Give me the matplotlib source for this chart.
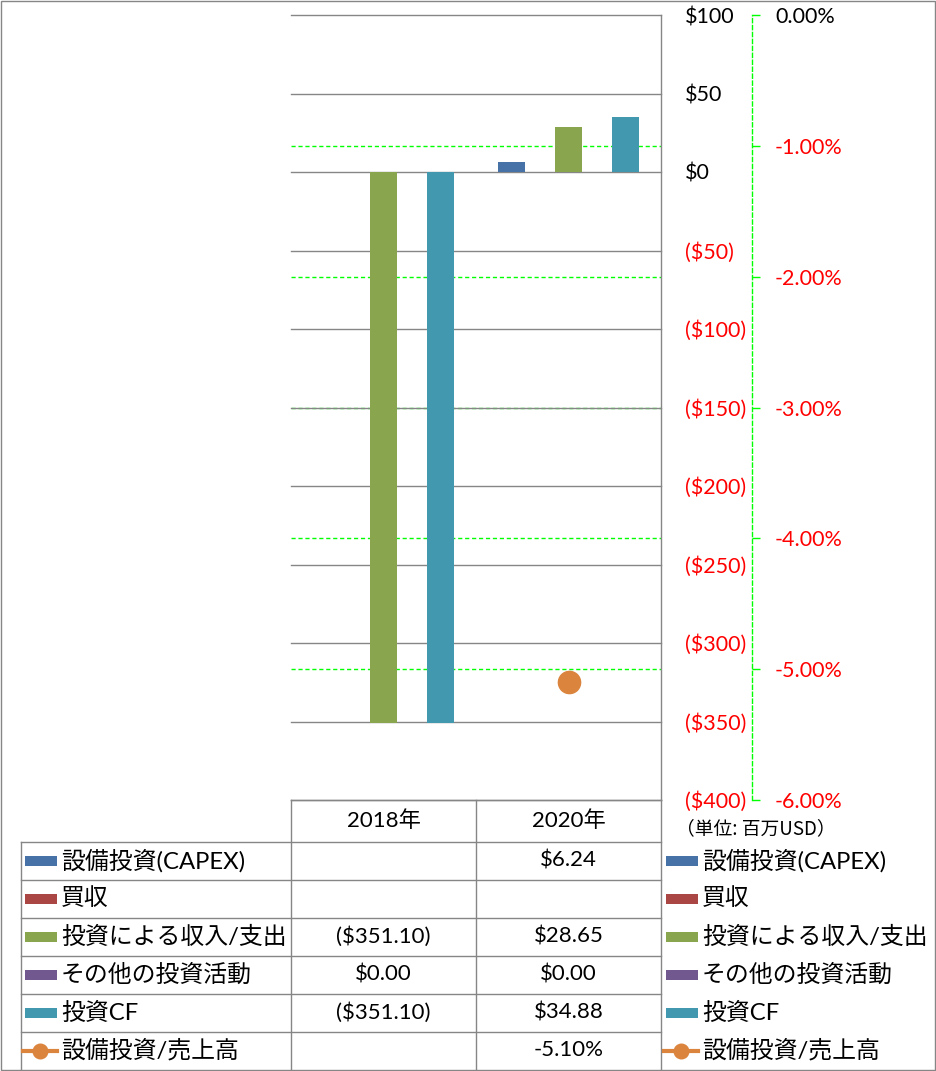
import numpy as np
import matplotlib.pyplot as plt
from matplotlib.patches import Rectangle
from matplotlib.lines import Line2D

plt.rcParams['font.family'] = ['Lato', 'Noto Sans CJK JP', 'DejaVu Sans']

# data
years = ['2018年', '2020年']
series_names = ['設備投資(CAPEX)', '買収', '投資による収入/支出', 'その他の投資活動', '投資CF']
capex = [np.nan, 6.24]
acquisitions = [np.nan, np.nan]
invest_income = [-351.10, 28.65]
other_invest = [0.00, 0.00]
invest_cf = [-351.10, 34.88]
ratio_name = '設備投資/売上高'
capex_ratio = [np.nan, -0.051]
usd_ticks = [100, 50, 0, -50, -100, -150, -200, -250, -300, -350, -400]
pct_ticks = [0.0, -0.01, -0.02, -0.03, -0.04, -0.05, -0.06]
unit_note = '（単位: 百万USD）'

series = [capex, acquisitions, invest_income, other_invest, invest_cf]
colors = ['#4672A8', '#AA4643', '#89A54E', '#71588F', '#4198AF']
orange = '#DB843D'
grid_gray = '#868686'

W, H = 936, 1071
fig = plt.figure(figsize=(W / 100, H / 100), dpi=100)


def fx(px):
    return px / W


def fy(py):
    return 1 - py / H


# main plot area (pixels): x 291-661, y 15-800
ax = fig.add_axes([fx(291), fy(800), fx(661) - fx(291), fy(15) - fy(800)])
ax2 = ax.twinx()
ax.set_zorder(ax2.get_zorder() + 1)
ax.patch.set_visible(False)

x = np.arange(len(years))
bw = 0.154
for i, (vals, c) in enumerate(zip(series, colors)):
    v = np.array(vals, dtype=float)
    ax.bar(x + (i - 2) * bw, np.nan_to_num(v), width=0.151, color=c, zorder=3,
           label=series_names[i])

ax.set_xlim(-0.5, len(years) - 0.5)
ax.set_ylim(-400, 100)
ax.set_xticks([])


def usd(v):
    return f'(${abs(v):,.0f})' if v < 0 else f'${v:,.0f}'


ax.set_yticks(usd_ticks, labels=[usd(v) for v in usd_ticks])
ax.yaxis.tick_right()
ax.tick_params(axis='y', length=0, pad=17, labelsize=15.5)
for v in usd_ticks:
    ax.axhline(v, color=grid_gray, lw=1.0, zorder=1, clip_on=False)
for s in ['left', 'top', 'bottom']:
    ax.spines[s].set_visible(False)
ax.spines['right'].set_color(grid_gray)
ax.spines['right'].set_linewidth(1.0)

# secondary axis
ax2.plot(x, capex_ratio, 'o', color=orange, markersize=16, zorder=4)
ax2.set_ylim(-0.06, 0.0)
ax2.set_yticks(pct_ticks, labels=[f'{abs(v) * 100:.2f}%' if v == 0 else f'{v * 100:.2f}%' for v in pct_ticks])
ax2.tick_params(axis='y', direction='out', length=5.5, width=1, color='lime', pad=11, labelsize=15.5)
for v in pct_ticks[1:-1]:
    ax2.axhline(v, color='lime', lw=1.0, linestyle=(0, (3, 2)), zorder=0)
for s in ['left', 'top', 'bottom']:
    ax2.spines[s].set_visible(False)
ax2.spines['right'].set_position(('axes', (752 - 291) / 370))
ax2.spines['right'].set_color('lime')
ax2.spines['right'].set_linestyle((0, (3, 2)))
ax2.spines['right'].set_linewidth(1.0)

fig.canvas.draw()
for a in [ax, ax2]:
    for tick in a.yaxis.get_major_ticks():
        col = 'red' if tick.get_loc() < -1e-12 else 'black'
        tick.label1.set_color(col)
        tick.label2.set_color(col)

# data table and legends (drawn in pixel space)
tb = fig.add_axes([0, 0, 1, 1], zorder=10)
tb.set_xlim(0, W)
tb.set_ylim(H, 0)
tb.axis('off')
lc = grid_gray
lw = 1.0

# figure border
tb.add_patch(Rectangle((0.5, 0.5), 934, 1069, fill=False, ec=lc, lw=lw))

col_x = [291, 476, 661]
head_top, head_bot = 800, 841.5
row_h = 38
rows = series_names + [ratio_name]
row_tops = [head_bot + i * row_h for i in range(len(rows) + 1)]
row_tops[-1] = 1069.5

tb.plot([291, 661], [head_top, head_top], color=lc, lw=lw)
for cx in col_x:
    tb.plot([cx, cx], [head_top, row_tops[-1]], color=lc, lw=lw)
tb.plot([20.5, 20.5], [head_bot, row_tops[-1]], color=lc, lw=lw)
for ry in row_tops[:-1]:
    tb.plot([20.5, 661], [ry, ry], color=lc, lw=lw)

fs = 16
fs_name = 17.2
for j, yr in enumerate(years):
    tb.text((col_x[j] + col_x[j + 1]) / 2, (head_top + head_bot) / 2, yr,
            ha='center', va='center', fontsize=fs)


def money(v):
    if np.isnan(v):
        return ''
    return f'(${abs(v):,.2f})' if v < 0 else f'${v:,.2f}'


def pct(v):
    return '' if np.isnan(v) else f'{v * 100:.2f}%'


table_vals = [[money(v) for v in s] for s in series] + [[pct(v) for v in capex_ratio]]

for i, name in enumerate(rows):
    cy = (row_tops[i] + row_tops[i + 1]) / 2
    for kx, tx in [(25, 61), (666, 702)]:
        if i < len(series):
            tb.add_patch(Rectangle((kx, cy - 5), 32, 10, color=colors[i], lw=0))
        else:
            tb.add_line(Line2D([kx - 2, kx + 32], [cy, cy], color=orange, lw=3))
            tb.plot(kx + 15, cy, 'o', color=orange, markersize=10.5)
        tb.text(tx, cy, name, ha='left', va='center', fontsize=fs_name)
    for j in range(len(years)):
        tb.text((col_x[j] + col_x[j + 1]) / 2, cy, table_vals[i][j],
                ha='center', va='center', fontsize=fs)

tb.text(676, 829, unit_note, ha='left', va='center', fontsize=13.5,
        family=['Noto Sans CJK JP'])

fig.savefig('out.png', dpi=100)
